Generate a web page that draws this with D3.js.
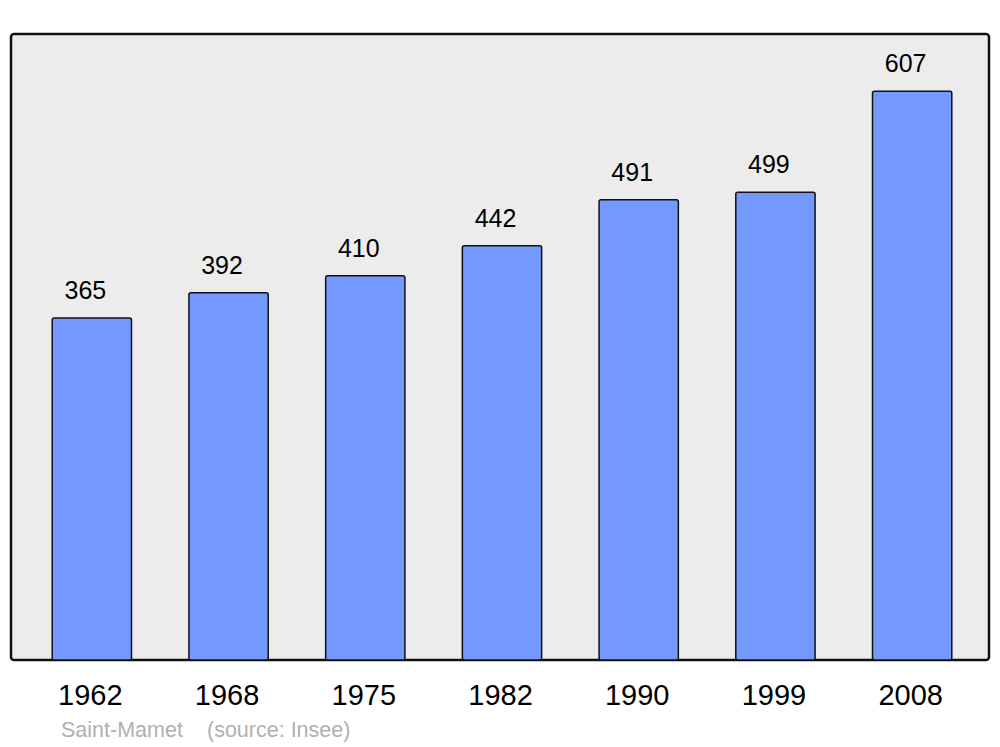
<!DOCTYPE html>
<html lang="fr">
<head>
<meta charset="UTF-8">
<title>Saint-Mamet population</title>
<script src="https://d3js.org/d3.v7.min.js"></script>
<style>
  body { margin: 0; background: #fff; }
  text { font-family: "Liberation Sans", Arial, sans-serif; }
</style>
</head>
<body>
<div id="chart"></div>
<script>
// data
const years = ["1962", "1968", "1975", "1982", "1990", "1999", "2008"];
const population = [365, 392, 410, 442, 491, 499, 607];
const town = "Saint-Mamet";
const source = "(source: Insee)";

const width = 1000, height = 747;
const panel = {x: 11, y: 34, w: 978, h: 626};

const svg = d3.select("#chart").append("svg")
    .attr("width", width)
    .attr("height", height);

// grey frame
svg.append("rect")
    .attr("x", panel.x).attr("y", panel.y)
    .attr("width", panel.w).attr("height", panel.h)
    .attr("rx", 3)
    .attr("fill", "#ececec")
    .attr("stroke", "#111")
    .attr("stroke-width", 2.5);

const x = d3.scaleBand()
    .domain(years)
    .range([23.5, 980.5])
    .paddingInner(0.42)
    .paddingOuter(0.21);

const y = d3.scaleLinear()
    .domain([0, 668])
    .range([panel.y + panel.h, panel.y]);

const rows = years.map((yr, i) => ({year: yr, value: population[i]}));

svg.append("g")
    .selectAll("rect")
    .data(rows)
    .join("rect")
    .attr("x", d => x(d.year))
    .attr("y", d => y(d.value))
    .attr("width", x.bandwidth())
    .attr("height", d => y(0) - y(d.value))
    .attr("rx", 2)
    .attr("fill", "#7399ff")
    .attr("stroke", "#111")
    .attr("stroke-width", 1.5);

// value labels above bars (sit a little left of the bar centre)
svg.append("g")
    .selectAll("text")
    .data(rows)
    .join("text")
    .attr("x", d => x(d.year) + x.bandwidth() / 2 - 6.5)
    .attr("y", d => y(d.value) - 19)
    .attr("text-anchor", "middle")
    .attr("font-size", 25)
    .attr("fill", "#000")
    .text(d => d.value);

// year labels under the frame
const xAxis = svg.append("g")
    .attr("transform", `translate(0,${panel.y + panel.h})`)
    .call(d3.axisBottom(x).tickSize(0).tickPadding(0));
xAxis.select(".domain").remove();
xAxis.selectAll("text")
    .attr("x", -1.5)
    .attr("y", 45)
    .attr("dy", null)
    .attr("font-size", 29)
    .attr("font-family", "Liberation Sans, Arial, sans-serif")
    .attr("fill", "#000");

// footer
svg.append("text")
    .attr("x", 61).attr("y", 737)
    .attr("font-size", 21.5)
    .attr("fill", "#b0b0b0")
    .text(town);
svg.append("text")
    .attr("x", 207).attr("y", 737)
    .attr("font-size", 21.5)
    .attr("fill", "#b0b0b0")
    .text(source);
</script>
</body>
</html>
